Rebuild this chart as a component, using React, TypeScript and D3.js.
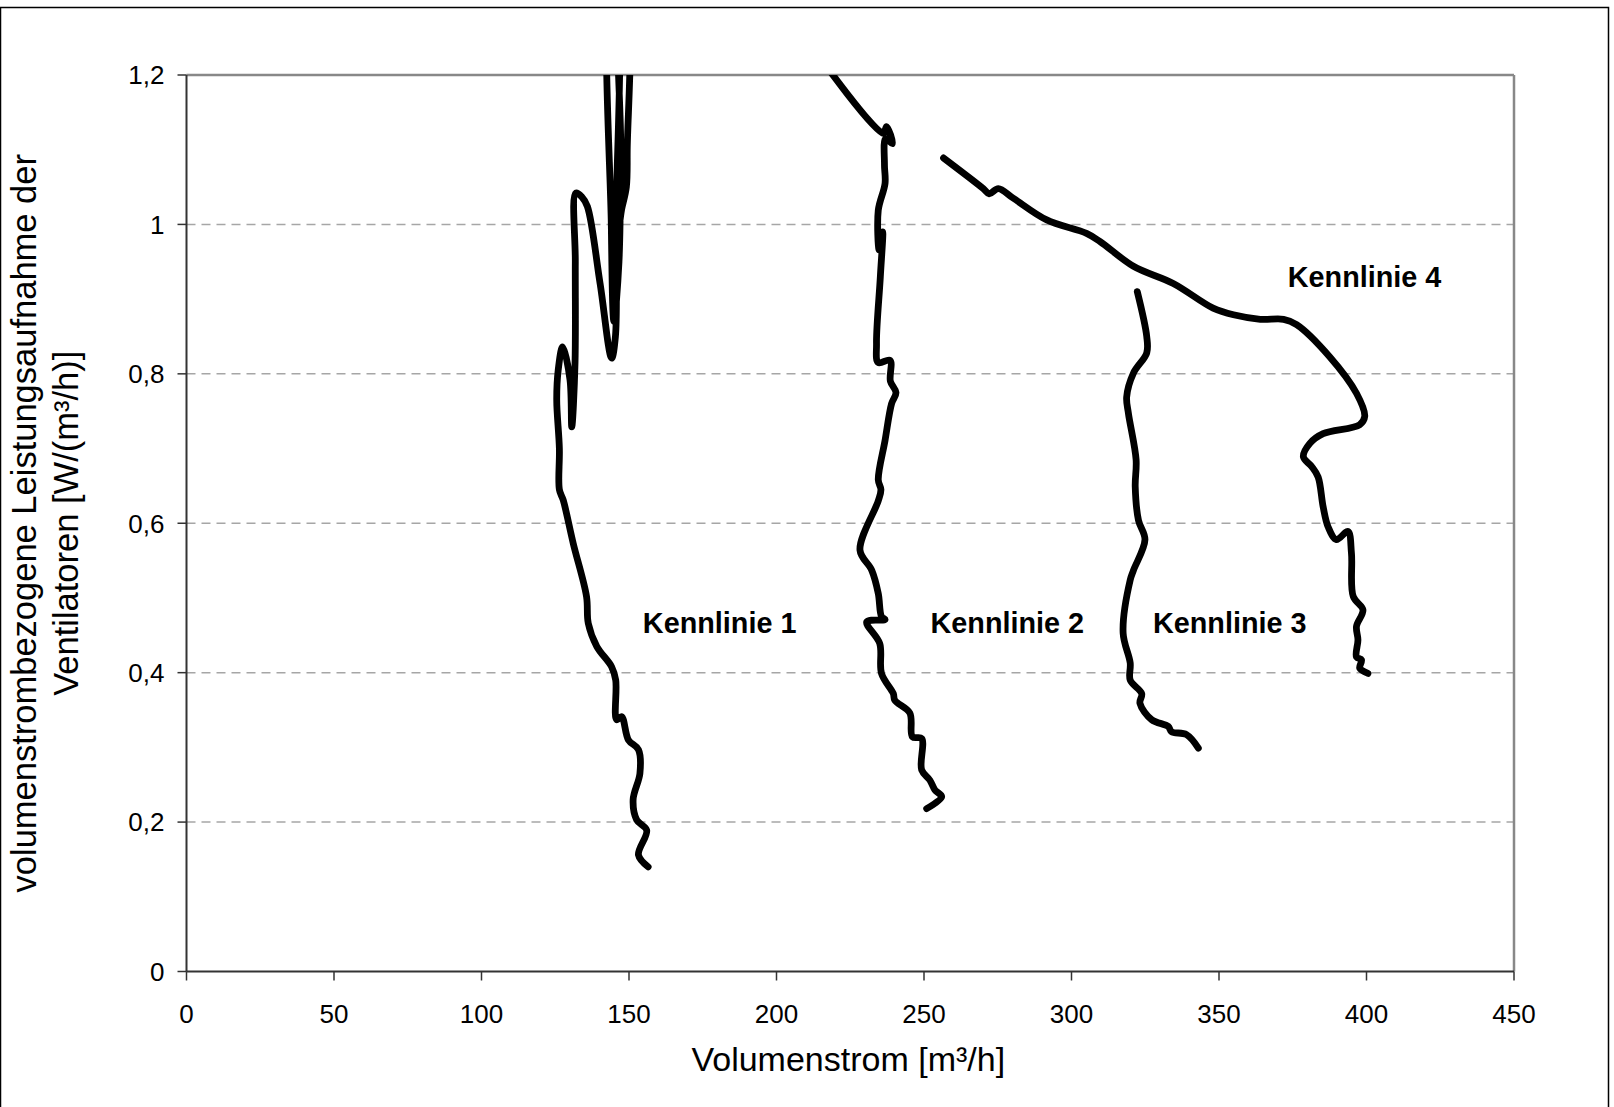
import React from 'react';
import * as d3 from 'd3';

// values (Volumenstrom [m³/h], W/(m³/h))
const xTicks = [0, 50, 100, 150, 200, 250, 300, 350, 400, 450];
const yTicks = [0, 0.2, 0.4, 0.6, 0.8, 1, 1.2];
const gridTicks = [0.2, 0.4, 0.6, 0.8, 1];

const kennlinie1: [number, number][] = [
    [156.5, 0.140], [153.2, 0.156], [156.0, 0.189], [152.6, 0.203], [151.4, 0.230],
    [153.7, 0.265], [153.2, 0.297], [149.8, 0.310], [147.5, 0.341], [145.8, 0.337],
    [145.5, 0.390], [144.1, 0.408], [139.1, 0.435], [136.2, 0.466], [135.6, 0.502],
    [131.1, 0.573], [127.7, 0.631], [126.4, 0.645], [126.4, 0.700], [125.5, 0.765],
    [126.0, 0.805], [127.5, 0.836], [130.0, 0.792], [130.6, 0.729], [131.7, 0.814],
    [131.8, 0.95], [132.0, 1.042], [134.0, 1.037], [135.9, 1.024], [140.2, 0.921],
    [144.1, 0.821], [145.4, 0.85], [145.6, 1.0], [145.4, 1.3], [143.8, 1.3],
    [144.0, 1.0], [144.9, 0.87], [146.6, 0.95], [147.2, 1.1], [147.3, 1.3],
    [149.2, 1.3], [149.4, 1.1], [149.1, 1.05], [147.5, 1.02], [146.8, 1.0],
];

const kennlinie2: [number, number][] = [
    [213.5, 1.23], [236.2, 1.122], [237.3, 1.131], [239.3, 1.108], [237.0, 1.115],
    [236.6, 1.08], [236.8, 1.055], [234.5, 1.019], [234.8, 0.966], [236.0, 0.99],
    [235.2, 0.93], [233.9, 0.841], [234.5, 0.815], [238.5, 0.818], [238.6, 0.79],
    [240.5, 0.775], [239.0, 0.76], [236.8, 0.711], [234.5, 0.658], [235.4, 0.645],
    [234.5, 0.63], [228.3, 0.564], [232.3, 0.537], [234.5, 0.506], [235.6, 0.475],
    [236.8, 0.471], [230.6, 0.468], [235.0, 0.439], [235.6, 0.399], [239.6, 0.372],
    [240.1, 0.363], [245.2, 0.346], [246.1, 0.314], [249.2, 0.312], [249.2, 0.270],
    [252.0, 0.256], [253.7, 0.243], [256.0, 0.234], [250.9, 0.218],
];

const kennlinie3: [number, number][] = [
    [322.3, 0.910], [325.5, 0.850], [325.5, 0.828], [321.0, 0.801], [318.7, 0.769],
    [319.3, 0.747], [321.9, 0.685], [321.6, 0.649], [322.7, 0.604], [324.9, 0.578],
    [321.0, 0.537], [319.9, 0.524], [317.5, 0.453], [319.9, 0.413], [319.9, 0.390],
    [323.8, 0.372], [323.2, 0.359], [327.2, 0.337], [332.8, 0.328], [333.9, 0.321],
    [339.0, 0.317], [343.0, 0.299],
];

const kennlinie4: [number, number][] = [
    [256.6, 1.089], [270.1, 1.048], [272.1, 1.041], [275.2, 1.048], [280.3, 1.035],
    [291.6, 1.006], [305.1, 0.988], [309.7, 0.977], [321.0, 0.944], [334.5, 0.921],
    [348.0, 0.888], [354.9, 0.879], [364.0, 0.873], [371.9, 0.873], [376.3, 0.866],
    [387.5, 0.823], [396.6, 0.774], [399.4, 0.743], [397.7, 0.732], [385.3, 0.720],
    [380.8, 0.707], [378.6, 0.689], [381.4, 0.676], [383.6, 0.662], [385.3, 0.622],
    [387.0, 0.595], [389.8, 0.578], [393.7, 0.589], [394.9, 0.560], [395.5, 0.502],
    [398.8, 0.484], [396.6, 0.462], [397.1, 0.444], [396.6, 0.421], [398.3, 0.417],
    [397.7, 0.406], [400.5, 0.399],
];

const series = [kennlinie1, kennlinie2, kennlinie3, kennlinie4];

const labels = [
    { text: 'Kennlinie 1', x: 154.7, y: 0.466 },
    { text: 'Kennlinie 2', x: 252.2, y: 0.466 },
    { text: 'Kennlinie 3', x: 327.6, y: 0.466 },
    { text: 'Kennlinie 4', x: 373.3, y: 0.930 },
];

const W = 1614;
const H = 1107;
const font = '"Liberation Sans", Arial, sans-serif';

function App() {
    const xScale = d3.scaleLinear().domain([0, 450]).range([186.5, 1514]);
    const yScale = d3.scaleLinear().domain([0, 1.2]).range([971.5, 75]);

    const line = d3.line<[number, number]>()
        .x(d => xScale(d[0]))
        .y(d => yScale(d[1]))
        .curve(d3.curveCatmullRom.alpha(0.5));

    const fmt = (t: number) => String(Math.round(t * 10) / 10).replace('.', ',');

    const x0 = xScale(0), x1 = xScale(450), y0 = yScale(0), y1 = yScale(1.2);

    return (
        <div style={{ position: 'absolute', left: 0, top: 0 }}>
            <svg width={W} height={H} style={{ display: 'block', fontFamily: font }}>
                <rect x={0} y={0} width={W} height={H} fill="#fff" />
                <path d={`M0.5,${H + 5} V7.5 H1608.5 V${H + 5}`} fill="none" stroke="#000" strokeWidth={1.5} />
                <defs>
                    <clipPath id="plot">
                        <rect x={x0} y={y1} width={x1 - x0} height={y0 - y1} />
                    </clipPath>
                </defs>

                {/* gridlines */}
                {gridTicks.map((t, i) => (
                    <line key={i} x1={x0} x2={x1} y1={yScale(t)} y2={yScale(t)}
                        stroke="#a6a6a6" strokeWidth={1.5} strokeDasharray="9 6" />
                ))}

                {/* plot frame */}
                <line x1={x0} x2={x1} y1={y1} y2={y1} stroke="#888" strokeWidth={2.5} />
                <line x1={x1} x2={x1} y1={y1} y2={y0} stroke="#888" strokeWidth={2.5} />

                {/* y axis */}
                <line x1={x0} x2={x0} y1={y1} y2={y0} stroke="#333" strokeWidth={2} />
                {yTicks.map((t, i) => (
                    <g key={i} transform={`translate(${x0}, ${yScale(t)})`}>
                        <line x1={-9} x2={0} stroke="#333" strokeWidth={1.5} />
                        <text x={-22} dy="0.36em" textAnchor="end" fontSize={26}>{fmt(t)}</text>
                    </g>
                ))}

                {/* x axis */}
                <line x1={x0} x2={x1} y1={y0} y2={y0} stroke="#333" strokeWidth={2} />
                {xTicks.map((t, i) => (
                    <g key={i} transform={`translate(${xScale(t)}, ${y0})`}>
                        <line y1={0} y2={9} stroke="#333" strokeWidth={1.5} />
                        <text y={42} dy="0.36em" textAnchor="middle" fontSize={26}>{t}</text>
                    </g>
                ))}

                {/* curves */}
                <g clipPath="url(#plot)">
                    {series.map((s, i) => (
                        <path key={i} d={line(s) || ''} fill="none" stroke="#000"
                            strokeWidth={6.8} strokeLinejoin="round" strokeLinecap="round" />
                    ))}
                </g>

                {labels.map((l, i) => (
                    <text key={i} x={xScale(l.x)} y={yScale(l.y)} dy="0.35em"
                        fontSize={28.8} fontWeight="bold">{l.text}</text>
                ))}

                <text x={(x0 + x1) / 2 - 2} y={1059} dy="0.35em" textAnchor="middle" fontSize={34}>
                    Volumenstrom [m³/h]
                </text>
                <text transform={`translate(24, ${(y0 + y1) / 2}) rotate(-90)`} dy="0.35em"
                    textAnchor="middle" fontSize={34.5}>
                    volumenstrombezogene Leistungsaufnahme der
                </text>
                <text transform={`translate(66, ${(y0 + y1) / 2}) rotate(-90)`} dy="0.35em"
                    textAnchor="middle" fontSize={34.5}>
                    Ventilatoren [W/(m³/h)]
                </text>
            </svg>
        </div>
    );
}

export default App;
